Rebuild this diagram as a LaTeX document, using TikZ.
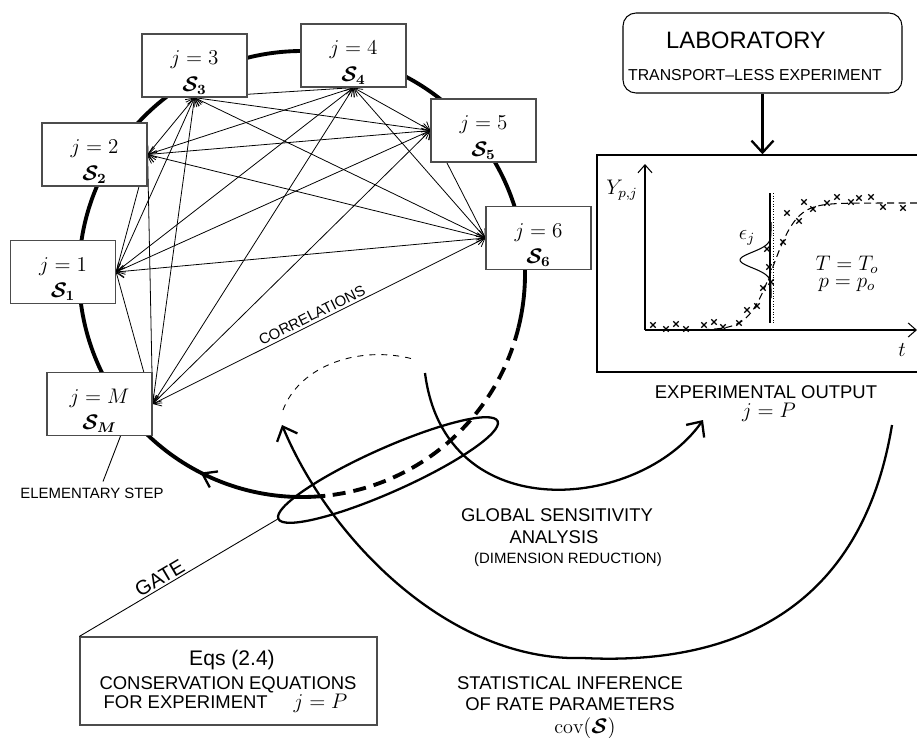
\documentclass[tikz,border=0pt]{standalone}
\usepackage{amsmath}
\usepackage{fontspec}
\setsansfont{Liberation Sans}
\usetikzlibrary{arrows.meta, decorations.markings, shapes.geometric, backgrounds}

\newcommand{\fsz}[1]{\fontsize{#1}{#1}\selectfont}
\newcommand{\bS}[1]{\boldsymbol{\mathcal{S}_{#1}}}
\newcommand{\steptxt}[1]{\rule{0pt}{16pt}$j=#1$\\[1pt]$\bS{#1}$}

\tikzset{
  stepbox/.style={draw=black!70, line width=0.7pt, fill=white, minimum width=21mm,
    minimum height=12.6mm, align=center, inner sep=0pt, font=\fontsize{11.5}{14}\selectfont},
  corr/.style={line width=0.45pt,
    {Straight Barb[length=1.4mm,width=2.4mm]}-{Straight Barb[length=1.4mm,width=2.4mm]}},
  ring/.style={line width=2.2pt},
  flow/.style={line width=1.3pt, -{Straight Barb[length=2.4mm,width=4.4mm]}},
  sflbl/.style={font=\sffamily\fsz{10.5}, inner sep=0pt},
  mathlbl/.style={font=\fsz{11.5}, inner sep=0pt},
}

\begin{document}
\begin{tikzpicture}[x=0.2mm, y=0.2mm]
\useasboundingbox (0,0) rectangle (917,-738);

% elementary steps on the ring
\node[stepbox] (s3) at (194.5,-65.5) {\steptxt{3}};
\node[stepbox] (s4) at (353.5,-55.5) {\steptxt{4}};
\node[stepbox] (s2) at (94.5,-154.5) {\steptxt{2}};
\node[stepbox] (s5) at (483.5,-130.5) {\steptxt{5}};
\node[stepbox] (s6) at (538.5,-238) {\steptxt{6}};
\node[stepbox] (s1) at (63,-272) {\steptxt{1}};
\node[stepbox] (sM) at (99.5,-404) {\steptxt{M}};

\coordinate (c1) at (s1.east);
\coordinate (c2) at (s2.east);
\coordinate (c3) at (s3.south);
\coordinate (c4) at (s4.south);
\coordinate (c5) at (s5.west);
\coordinate (c6) at (s6.west);
\coordinate (cM) at (sM.east);

\begin{pgfonlayer}{background}
% the ring, open at the gate
\draw[ring, postaction={decorate}, decoration={markings, mark=at position 0.114 with
  {\arrow[line width=1.3pt]{Straight Barb[length=2.6mm,width=3.6mm]}}}]
  (302,-274) ++(-84:223) arc[start angle=-84, end angle=-374, radius=223];
\draw[ring, dash pattern=on 2.6mm off 1.6mm]
  (302,-274) ++(-14:223) arc[start angle=-14, end angle=-84, radius=223];
% correlations
\foreach \a/\b in {1/2,1/3,1/4,1/5,1/6,1/M,2/3,2/4,2/5,2/6,2/M,3/4,3/5,3/6,3/M,4/5,4/6,4/M,5/6,5/M}
  \draw[corr] (c\a) -- (c\b);
\draw[corr] (cM) -- node[sloped, above, pos=0.49, font=\sffamily\fsz{8.5}, inner sep=1.5pt]
  (corrlbl) {CORRELATIONS} (c6);
\end{pgfonlayer}

\node[font=\sffamily\fsz{8.5}] (elem) at (92,-493) {ELEMENTARY STEP};
\draw[line width=0.5pt] ([xshift=4.2mm]sM.south) -- ([xshift=2.2mm]elem.north);

% laboratory and experimental output
\node[draw, rounded corners=2.6mm, minimum width=55.8mm, minimum height=16mm,
  line width=0.6pt] (lab) at (762.5,-53) {};
\node[font=\sffamily\fsz{13.5}] (labname) at (746,-40) {LABORATORY};
\node[font=\sffamily\fsz{9}] (labkind) at (755,-75) {TRANSPORT–LESS EXPERIMENT};
\node[draw, line width=0.8pt, minimum width=69.6mm, minimum height=43.4mm] (frame)
  at (771,-263.5) {};
\draw[flow] (lab.south) -- (lab.south |- frame.north);

\coordinate (orig) at (645,-330);
\coordinate (yend) at (645,-164);
\coordinate (xend) at (917,-330);
\draw[line width=0.6pt, -{Straight Barb[length=1.6mm,width=2.8mm]}] (orig) -- (yend);
\draw[line width=0.6pt, -{Straight Barb[length=1.6mm,width=2.8mm]}] (orig) -- (xend);
\node[mathlbl] (ylbl) at (622,-190) {$Y_{p,j}$};
\node[mathlbl] (tlbl) at (902,-350) {$t$};

\draw[line width=0.7pt] (770,-193) -- (770,-323);
\draw[line width=0.5pt, densely dotted] (773,-193) -- (773,-323);
\draw[line width=0.6pt] plot[domain=222:298, samples=60, smooth]
  ({771-31*exp(-((\x-260)/11)*((\x-260)/11))}, -\x);
\node[mathlbl] (eps) at (747,-238) {$\epsilon_j$};

\draw[line width=0.6pt, dash pattern=on 1.4mm off 0.9mm] (orig) -- (690,-329.9)
  -- plot[domain=690:917, samples=80] (\x, {-330+127/(1+exp(-(\x-773)/12))});
\draw[line width=0.65pt] plot[only marks, mark=x, mark size=2.2pt] coordinates {
  (653,-325) (666,-329) (676,-324) (686,-329) (704,-325) (714,-322) (723,-327)
  (739,-323) (747,-310) (757,-306) (763,-288) (771,-282) (769,-267) (767,-249)
  (783,-242) (787,-213) (799,-221) (804,-202) (813,-209) (827,-203) (837,-197)
  (851,-202) (859,-198) (871,-197) (883,-207) (903,-208)};
\node[mathlbl] (tcond) at (847,-265) {$T=T_o$};
\node[mathlbl] (pcond) at (847,-285) {$p=p_o$};

\node[sflbl] (expout) at (766,-392) {EXPERIMENTAL OUTPUT};
\node[mathlbl] (expj) at (769,-412) {$j=P$};

% gate and conservation equations
\node[ellipse, draw, line width=1.3pt, minimum width=48mm, minimum height=8.8mm,
  rotate=24, inner sep=0pt] (gate) at (388,-470) {};
\node[draw=black!70, line width=0.7pt, minimum width=59.4mm, minimum height=17.6mm]
  (eqbox) at (228.5,-681) {};
\draw[line width=0.5pt] (gate.west) -- node[sloped, above, pos=0.57,
  font=\sffamily\fsz{11.5}, inner sep=1pt] (gatelbl) {GATE} (eqbox.north west);
\node[font=\sffamily\fsz{12}] (eqs) at (232,-660) {Eqs (2.4)};
\node[sflbl] (conseq) at (228,-685) {CONSERVATION EQUATIONS};
\node[sflbl] (forexp) at (225.5,-703) {FOR EXPERIMENT\hspace{5.2mm}{\fsz{11.5}$j=P$}};

% sensitivity and inference loops
\draw[line width=0.5pt, dash pattern=on 1.2mm off 1.2mm]
  (283,-410) .. controls (300,-365) and (360,-345) .. (413,-359);
\draw[flow] (425,-373) .. controls (445,-530) and (640,-510) .. (703,-420);
\draw[flow] (892,-425) .. controls (860,-620) and (720,-665) .. (583,-658)
  .. controls (450,-662) and (330,-540) .. (282,-425);

\node[sflbl] (gsa1) at (557,-515) {GLOBAL SENSITIVITY};
\node[sflbl] (gsa2) at (554,-537) {ANALYSIS};
\node[font=\sffamily\fsz{8.5}] (gsa3) at (568,-560) {(DIMENSION REDUCTION)};
\node[sflbl] (inf1) at (570,-683) {STATISTICAL INFERENCE};
\node[sflbl] (inf2) at (570,-704) {OF RATE PARAMETERS};
\node[mathlbl] (inf3) at (585,-728) {$\mathrm{cov}(\boldsymbol{\mathcal{S}})$};
\end{tikzpicture}
\end{document}
